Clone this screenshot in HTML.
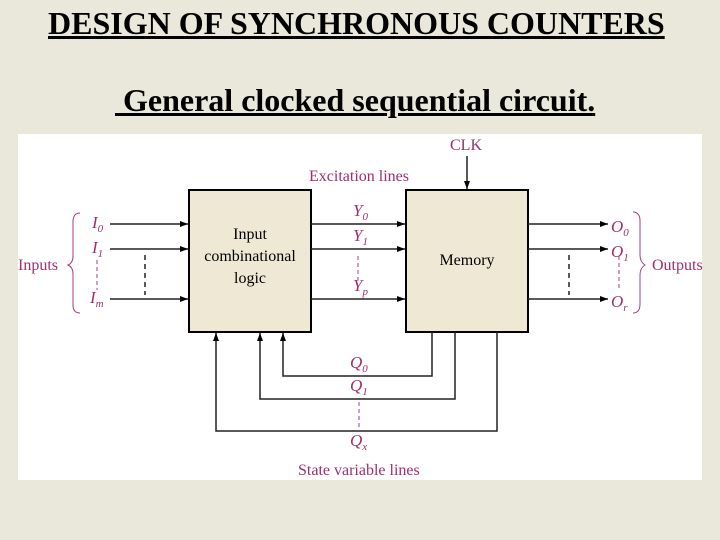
<!DOCTYPE html>
<html><head><style>
body{margin:0;width:720px;height:540px;background:#e9e8da;overflow:hidden;position:relative;font-family:"Liberation Serif",serif}
.t{position:absolute;font-weight:bold;text-decoration:underline;color:#000;white-space:nowrap}
</style></head><body>
<div class="t" style="left:48px;top:5px;font-size:32px">DESIGN OF SYNCHRONOUS COUNTERS</div>
<div class="t" style="left:115px;top:82px;font-size:32px">&nbsp;General clocked sequential circuit.</div>
<svg style="position:absolute;left:0;top:0" width="720" height="540" font-family="Liberation Serif,serif">
<defs><marker id="a" markerWidth="8" markerHeight="6" refX="8" refY="3" orient="auto" markerUnits="userSpaceOnUse"><path d="M0,0L8,3L0,6z" fill="#000"/></marker></defs>
<rect x="18" y="134" width="684" height="346" fill="#fff"/>
<rect x="189" y="190" width="122" height="142" fill="#efe8d4" stroke="#000" stroke-width="2"/>
<rect x="406" y="190" width="122" height="142" fill="#efe8d4" stroke="#000" stroke-width="2"/>
<g stroke="#222" stroke-width="1.5" fill="none" marker-end="url(#a)">
<path d="M110 224H188"/><path d="M110 249H188"/><path d="M110 299H188"/>
<path d="M311 224H405"/><path d="M311 249H405"/><path d="M311 299H405"/>
<path d="M528 224H608"/><path d="M528 249H608"/><path d="M528 299H608"/>
<path d="M467 156V189"/>
<path d="M432 332V376H283V333"/>
<path d="M455 332V399H260V333"/>
<path d="M497 332V431H216V333"/>
</g>
<g stroke="#222" stroke-width="1.5" fill="none">
<path d="M145 255V295M569 255V295" stroke-dasharray="5,4"/>
</g>
<g stroke="#a04080" stroke-width="1" fill="none">
<path d="M80 213Q73 213 73 222V256Q73 263 68 265Q73 267 73 274V305Q73 313 80 313"/>
<path d="M633 212Q640 212 640 221V255Q640 262 645 265Q640 268 640 275V304Q640 313 633 313"/>
<path d="M97 260V290M358 256V280M619 256V290M359 402V428" stroke-dasharray="4,3"/>
</g>
<g fill="#a02d6e" font-size="16">
<text x="18" y="270">Inputs</text>
<text x="652" y="270">Outputs</text>
<text x="450" y="150">CLK</text>
<text x="309" y="181">Excitation lines</text>
<text x="298" y="475">State variable lines</text>
<g font-style="italic" font-size="17">
<text x="92" y="228">I<tspan font-size="11" dy="4">0</tspan></text>
<text x="92" y="253">I<tspan font-size="11" dy="4">1</tspan></text>
<text x="90" y="303">I<tspan font-size="11" dy="4">m</tspan></text>
<text x="353" y="216">Y<tspan font-size="11" dy="4">0</tspan></text>
<text x="353" y="241">Y<tspan font-size="11" dy="4">1</tspan></text>
<text x="353" y="291">Y<tspan font-size="11" dy="4">p</tspan></text>
<text x="611" y="232">O<tspan font-size="11" dy="4">0</tspan></text>
<text x="611" y="257">O<tspan font-size="11" dy="4">1</tspan></text>
<text x="611" y="307">O<tspan font-size="11" dy="4">r</tspan></text>
<text x="350" y="368">Q<tspan font-size="11" dy="4">0</tspan></text>
<text x="350" y="391">Q<tspan font-size="11" dy="4">1</tspan></text>
<text x="350" y="446">Q<tspan font-size="11" dy="4">x</tspan></text>
</g></g>
<g font-size="16" fill="#000" text-anchor="middle">
<text x="250" y="239">Input</text>
<text x="250" y="261">combinational</text>
<text x="250" y="283">logic</text>
<text x="467" y="265">Memory</text>
</g>
</svg>
</body></html>
